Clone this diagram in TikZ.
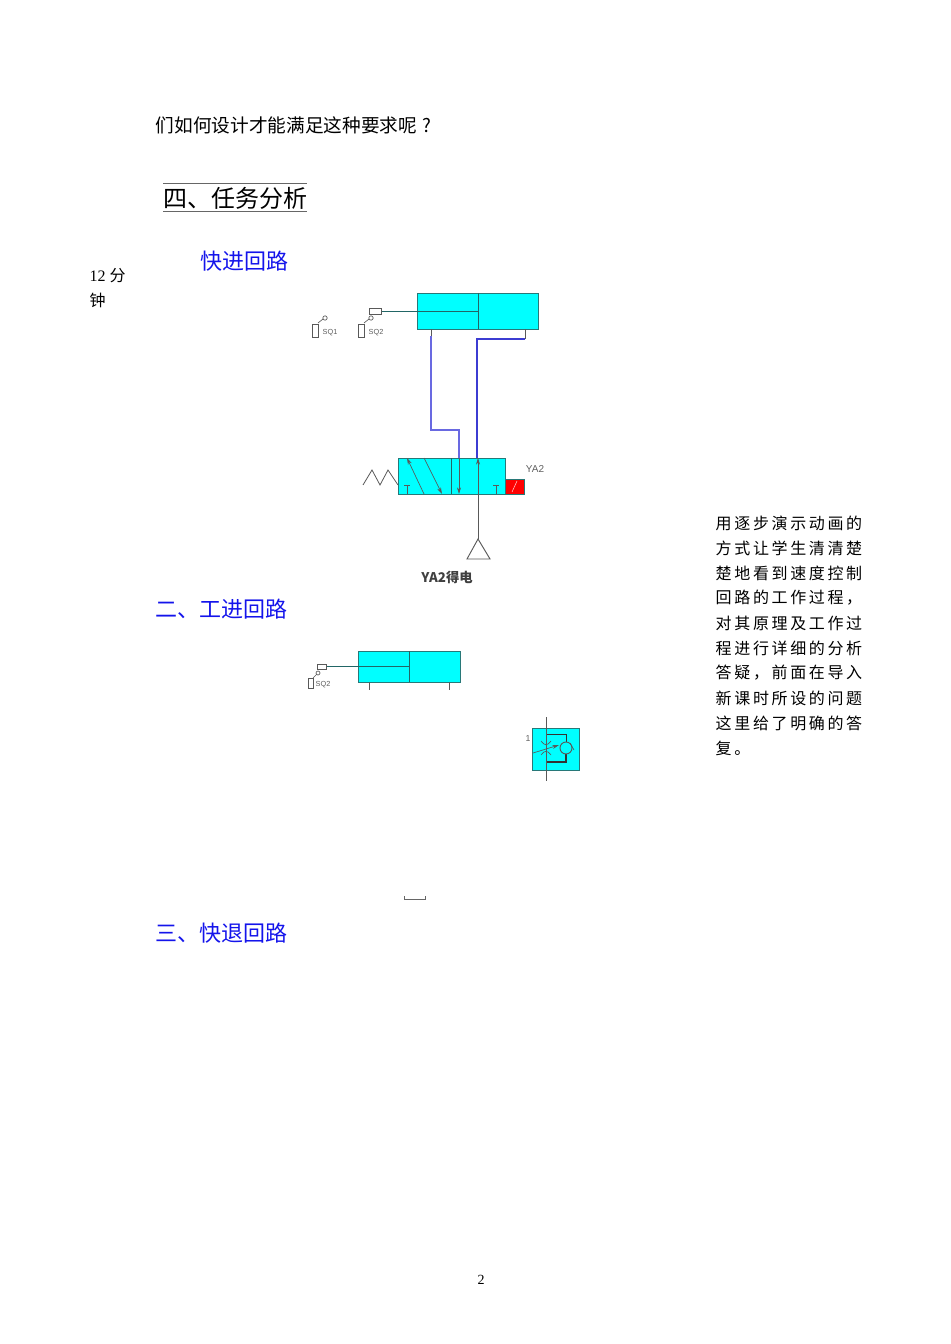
\documentclass[tikz,border=0pt]{standalone}
\usepackage{fontspec}
\usetikzlibrary{arrows.meta}
\setmainfont{Liberation Serif}
\setsansfont{Liberation Sans}
\newfontfamily\cjk{Noto Sans CJK SC}
\newfontfamily\cjkwide[LetterSpace=16.5]{Noto Sans CJK SC}
\newcommand{\fwcomma}{\char"FF0C\relax}
\definecolor{cylcyan}{RGB}{0,255,255}
\definecolor{edgeteal}{RGB}{40,120,120}
\definecolor{pipeblue}{RGB}{60,60,210}
\definecolor{pipepale}{RGB}{105,105,225}
\definecolor{headblue}{RGB}{20,20,235}
\definecolor{lblgray}{RGB}{95,95,95}
\tikzset{
	headline/.style = {anchor = west, text = headblue, font = \fontsize{16.5}{18}\cjk},
	sidenote/.style = {anchor = west, font = \fontsize{12}{14}\cjkwide},
	hydbox/.style = {fill = cylcyan, draw = edgeteal, line width = 0.55pt},
	hydline/.style = {draw = edgeteal!85!black, line width = 0.7pt},
	pipe/.style = {draw = pipeblue, line width = 1.1pt},
	thinline/.style = {draw = black!65, line width = 0.5pt},
	swlabel/.style = {text = lblgray, font = \fontsize{5.5}{6}\sffamily},
	>={Stealth[length=5pt, width=3pt]},
}
\begin{document}
\begin{tikzpicture}[x=0.75pt, y=-0.75pt]
			\useasboundingbox (0,0) rectangle (950,1344);

			% text of the page
			\begin{scope}
				\node [anchor = west, font = \fontsize{14}{16}\cjk] (intro) at (151,125) {们如何设计才能满足这种要求呢\hspace{4pt}?};
				\node [font = \fontsize{18}{20}\cjk] (title) at (235,198) {四、任务分析};
				\draw [black!60] (163,183) -- (307,183);
				\draw [black!60] (163,211) -- (307,211);
				\node [headline] (fast) at (196,261) {快进回路};
				\node [headline] (work) at (151,609) {二、工进回路};
				\node [headline] (back) at (151,933) {三、快退回路};
				\node [anchor = west, font = \fontsize{12}{14}\selectfont] (mins) at (85,276) {12 {\cjk 分}};
				\node [anchor = west, font = \fontsize{12}{14}\cjk] (minsb) at (85,300) {钟};
				\node [font = \fontsize{10.5}{12}\selectfont] (pageno) at (481,1280) {2};
			\end{scope}

			% side note
			\foreach \n/\t in {0/用逐步演示动画的, 1/方式让学生清清楚, 2/楚地看到速度控制, 3/回路的工作过程\fwcomma, 4/对其原理及工作过, 5/程进行详细的分析, 6/答疑\fwcomma 前面在导入, 7/新课时所设的问题, 8/这里给了明确的答, 9/复。} {
				\node [sidenote] (note\n) at (711,523+25*\n) {\t};
			}

			% upper cylinder
			\begin{scope}
				\draw [hydbox] (417,293) rectangle (538,329);
				\draw [hydline] (478,293) -- (478,329);
				\draw [hydline] (381,311) -- (478,311);
				\draw [thinline, fill = white] (369,308) rectangle (381,314);
				\coordinate (portL) at (431,329);
				\coordinate (portR) at (525,329);
				\coordinate (pipeL) at (431,336);
				\coordinate (pipeR) at (525,339);
				\draw [thinline] (portL) -- (pipeL);
				\draw [thinline] (portR) -- (pipeR);
			\end{scope}

			% limit switches
			\foreach \x/\t in {312/SQ1, 358/SQ2} {
				\draw [thinline] (\x,324) rectangle ++(6,13);
				\draw [thinline] (\x+6,323) -- ++(5,-4);
				\draw [thinline] (\x+13,318) circle (2.2);
				\node [swlabel] at (\x+18,333) {\t};
			}

			% valve
			\begin{scope}
				\draw [hydbox] (398,458) rectangle (505,494);
				\draw [hydline] (451,458) -- (451,494);
				\draw [thinline, ->] (424,494) -- (407,458);
				\draw [thinline, ->] (424,458) -- (442,494);
				\draw [thinline, ->] (459,458) -- (459,494);
				\draw [thinline, ->] (478,494) -- (478,458);
				\foreach \x in {407,496} {
					\draw [thinline] (\x,494) -- (\x,485);
					\draw [thinline] (\x-3,485) -- (\x+3,485);
				}
				\draw [fill = red, draw = edgeteal] (505,479) rectangle (524,494);
				\draw [white!80!red, line width = 0.4pt] (512,492) -- (517,481);
				\draw [thinline, line width = 0.6pt] (398,485) -- (388,470) -- (380,485) -- (372,470) -- (363,485);
				\node [swlabel, font = \fontsize{7.5}{8}\sffamily] (ya) at (535,469) {YA2};
				\coordinate (valveA) at (459,458);
				\coordinate (valveB) at (477,458);
			\end{scope}

			% pipes
			\draw [pipe, draw = pipepale, line width = 1.5pt] (pipeL) |- (459,430) -- (valveA);
			\draw [pipe] (pipeR) -- (477,339) -- (valveB);

			% tank
			\coordinate (tankTop) at (478,539);
			\draw [thinline] (478,494) -- (tankTop);
			\draw [thinline, line width = 0.7pt] (tankTop) -- (490,559) -- (467,559) -- cycle;
			\node [text = black!75, font = \fontsize{10}{10}\bfseries\cjk] (cap) at (447,577) {YA2得电};

			% lower cylinder
			\begin{scope}
				\draw [hydbox] (358,651) rectangle (460,682);
				\draw [hydline] (409,651) -- (409,682);
				\draw [hydline] (326,666) -- (409,666);
				\draw [thinline, fill = white] (317,664) rectangle (326,669);
				\draw [thinline] (369,682) -- ++(0,8);
				\draw [thinline] (449,682) -- ++(0,8);
				\draw [thinline] (308,678) rectangle (313,688);
				\draw [thinline] (313,678) -- (317,674);
				\draw [thinline] (318,673) circle (2);
				\node [swlabel] (sqb) at (323,685) {SQ2};
			\end{scope}

			% throttle valve
			\begin{scope}
				\draw [hydbox] (532,728) rectangle (579,770);
				\draw [hydline, draw = black!80] (546,734) -- (566,734) -- (566,742);
				\draw [hydline, draw = black!80, line width = 1pt] (566,754) -- (566,762) -- (546,762);
				\draw [thinline, line width = 0.7pt] (566,748) circle (6);
				\draw [thinline] (574,750) -- (570,743);
				\draw [thinline] (541,741) .. controls (545,746) and (547,746) .. (551,741);
				\draw [thinline] (541,755) .. controls (545,750) and (547,750) .. (551,755);
				\draw [thinline, ->] (533,753) -- (559,745);
				\draw [thinline] (546,717) -- (546,781);
				\node [swlabel, font = \fontsize{6.5}{7}\sffamily] (one) at (528,739) {1};
			\end{scope}

			% leftover piece
			\draw [black!60, line width = 0.7pt] (404,896) -- (404,899) -- (425,899) -- (425,896);
		\end{tikzpicture}
\end{document}
